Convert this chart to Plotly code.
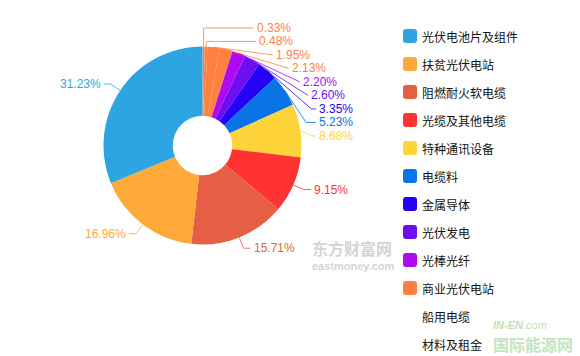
import math
import plotly.graph_objects as go

# ---------------- data (legend order) ----------------
categories = ["光伏电池片及组件", "扶贫光伏电站", "阻燃耐火软电缆", "光缆及其他电缆",
              "特种通讯设备", "电缆料", "金属导体", "光伏发电", "光棒光纤",
              "商业光伏电站", "船用电缆", "材料及租金", "其他"]
shares = [31.23, 16.96, 15.71, 9.15, 8.68, 5.23, 3.35, 2.60, 2.20, 2.13, 1.95, 0.48, 0.33]
palette = ["#2ea5e2", "#ffa93b", "#e65f45", "#ff3333", "#ffd43b",
           "#0874e6", "#2402f5", "#6c0ef0", "#b00af0", "#ff8142"]

# ---------------- layout constants (pixels) ----------------
W, H = 580, 356
CX, CY, R = 202.5, 145.5, 99.0
HOLE = 0.30
LEN, LEN2, GAP = 11.6, 7.0, 3.0
LINE_H = 13.5
RIGHT_LIMIT = 353
MIN_SPAN = 50
FONT = "Liberation Sans, Arial, sans-serif"
CJK = "Noto Sans CJK SC, sans-serif"

def col(i):
    return palette[i] if i < len(palette) else palette[-1]

colors = [col(i) for i in range(len(categories))]

# pie drawn clockwise from 12 o'clock in ascending order
pie_labels = categories[::-1]
pie_values = shares[::-1]
pie_colors = colors[::-1]

fig = go.Figure()
fig.add_trace(go.Scatter(x=[], y=[], mode="markers", showlegend=False, hoverinfo="skip"))
fig.add_trace(go.Pie(
    labels=pie_labels, values=pie_values, sort=False, direction="clockwise", rotation=0,
    hole=HOLE, marker=dict(colors=pie_colors, line=dict(width=0)),
    textinfo="none", hoverinfo="label+percent", showlegend=False,
    domain=dict(x=[(CX - R) / W, (CX + R) / W], y=[(H - CY - R) / H, (H - CY + R) / H]),
))

# ---------------- label layout ----------------
total = sum(pie_values)
items = []
acc = 0.0
for lab, v, c in zip(pie_labels, pie_values, pie_colors):
    mid = (acc + v / 2) / total * 2 * math.pi
    acc += v
    sx, sy = math.sin(mid), -math.cos(mid)
    items.append(dict(text=f"{v:.2f}%", color=c, sx=sx, sy=sy,
                      p0=(CX + R * sx, CY + R * sy),
                      y0=CY + (R + LEN) * sy,
                      side=1 if sx >= 0 else -1))

def spread(lst):
    lst.sort(key=lambda d: d["y0"])
    prev = -1e9
    groups = []
    for it in lst:
        y = max(it["y0"], prev + LINE_H)
        it["y"] = y
        if y == it["y0"]:
            groups.append([it])
        else:
            groups[-1].append(it)
        prev = y
    for g in groups:
        push = g[-1]["y"] - g[-1]["y0"]
        for it in g:
            it["y"] -= push / 2

spread([i for i in items if i["side"] == 1])
spread([i for i in items if i["side"] == -1])

def proj(x1, y1, x2, y2, x, y):
    dx, dy = x2 - x1, y2 - y1
    t = ((x - x1) * dx + (y - y1) * dy) / (dx * dx + dy * dy)
    px, py = x1 + t * dx, y1 + t * dy
    return math.hypot(x - px, y - py), px, py

def clamp_t(p1, p2, qx, qy):
    if p2[0] != p1[0]:
        t = (qx - p1[0]) / (p2[0] - p1[0])
    else:
        t = (qy - p1[1]) / (p2[1] - p1[1])
    if t < 0:
        return p1
    if t > 1:
        return p2
    return (qx, qy)

def limit_turn(p0, p1, p2, min_deg=90):
    a = math.radians(min_deg)
    d1 = (p0[0] - p1[0], p0[1] - p1[1]); d2 = (p2[0] - p1[0], p2[1] - p1[1])
    l1, l2 = math.hypot(*d1), math.hypot(*d2)
    if l1 < 1e-3 or l2 < 1e-3:
        return p1
    d1 = (d1[0] / l1, d1[1] / l1); d2 = (d2[0] / l2, d2[1] / l2)
    if math.cos(a) < d1[0] * d2[0] + d1[1] * d2[1]:
        d, qx, qy = proj(p1[0], p1[1], p2[0], p2[1], p0[0], p0[1])
        k = d / math.tan(math.pi - a) if abs(math.tan(math.pi - a)) > 1e-9 else 0
        qx += d2[0] * k; qy += d2[1] * k
        return clamp_t(p1, p2, qx, qy)
    return p1

def limit_surface(p0, p1, p2, normal, max_deg=90):
    a = math.radians(max_deg)
    d1 = (p1[0] - p0[0], p1[1] - p0[1]); d2 = (p2[0] - p1[0], p2[1] - p1[1])
    l1, l2 = math.hypot(*d1), math.hypot(*d2)
    if l1 < 1e-3 or l2 < 1e-3:
        return p1
    d1 = (d1[0] / l1, d1[1] / l1); d2 = (d2[0] / l2, d2[1] / l2)
    if d1[0] * normal[0] + d1[1] * normal[1] < math.cos(a):
        d, qx, qy = proj(p1[0], p1[1], p2[0], p2[1], p0[0], p0[1])
        ang2 = math.acos(max(-1, min(1, d2[0] * normal[0] + d2[1] * normal[1])))
        new = math.pi / 2 + ang2 - a
        if new >= math.pi / 2:
            return p2
        k = d / math.tan(math.pi / 2 - new)
        qx += d2[0] * k; qy += d2[1] * k
        return clamp_t(p1, p2, qx, qy)
    return p1

shapes = []
annotations = []
RA = R + LEN
for it in items:
    s = it["side"]
    y = it["y"]
    dy = y - CY
    ex = math.sqrt(RA * RA - dy * dy) if abs(dy) < RA else 0.0
    ndig = sum(ch.isdigit() for ch in it["text"])
    tw = 6.67 * ndig + 3.34 + 10.67
    if s == 1:
        tx = CX + ex + LEN2 + GAP
        if dy < 0:
            tx = max(tx, it["p0"][0] + MIN_SPAN + GAP)
        tx = min(tx, RIGHT_LIMIT - tw)
    else:
        tx = CX - ex - LEN2 - GAP
    p0 = it["p0"]
    p2 = (tx - s * GAP, y)
    p1 = (CX + RA * it["sx"], y)
    p1 = limit_turn(p0, p1, p2)
    p1 = limit_surface(p0, p1, p2, (it["sx"], it["sy"]))
    shapes.append(dict(type="path", xref="x", yref="y", layer="above",
                       path=f"M{p0[0]:.2f},{p0[1]:.2f} L{p1[0]:.2f},{p1[1]:.2f} L{p2[0]:.2f},{p2[1]:.2f}",
                       line=dict(color=it["color"], width=1), opacity=0.8))
    annotations.append(dict(xref="x", yref="y", x=tx, y=y, text=it["text"], showarrow=False,
                            xanchor="left" if s == 1 else "right", yanchor="middle",
                            borderpad=0, borderwidth=0,
                            font=dict(family=FONT, size=12, color=it["color"])))

# ---------------- custom legend ----------------
LEG_X, LEG_Y0, LEG_STEP, MK = 403, 36, 28, 14

def rrect(x0, y0, x1, y1, r):
    return (f"M{x0+r},{y0} L{x1-r},{y0} Q{x1},{y0} {x1},{y0+r} L{x1},{y1-r} "
            f"Q{x1},{y1} {x1-r},{y1} L{x0+r},{y1} Q{x0},{y1} {x0},{y1-r} "
            f"L{x0},{y0+r} Q{x0},{y0} {x0+r},{y0} Z")

for i, name in enumerate(categories):
    yc = LEG_Y0 + i * LEG_STEP
    if yc > H:
        break
    if i < len(palette):
        shapes.append(dict(type="path", xref="x", yref="y", layer="above",
                           path=rrect(LEG_X, yc - MK / 2, LEG_X + MK, yc + MK / 2, 3),
                           fillcolor=palette[i], line=dict(width=0)))
    annotations.append(dict(xref="x", yref="y", x=LEG_X + MK + 5, y=yc, text=name,
                            showarrow=False, xanchor="left", yanchor="middle",
                            borderpad=0, borderwidth=0,
                            font=dict(family=CJK, size=12, color="#111111")))

# ---------------- watermarks ----------------
annotations += [
    dict(xref="x", yref="y", x=311, y=248, text="<b>东方财富网</b>", showarrow=False,
         xanchor="left", yanchor="middle", borderpad=0,
         font=dict(family=CJK, size=16, color="#d4d4d4")),
    dict(xref="x", yref="y", x=311, y=266, text="<b>eastmoney.com</b>", showarrow=False,
         xanchor="left", yanchor="middle", borderpad=0,
         font=dict(family=FONT, size=11, color="#d4d4d4")),
    dict(xref="x", yref="y", x=492, y=325, text="<b><i>IN-EN</i></b><i>.com</i>", showarrow=False,
         xanchor="left", yanchor="middle", borderpad=0,
         font=dict(family=FONT, size=11, color="#bfe0b8")),
    dict(xref="x", yref="y", x=492, y=344, text="<b>国际能源网</b>", showarrow=False,
         xanchor="left", yanchor="middle", borderpad=0,
         font=dict(family=CJK, size=16, color="#c4e5be")),
]

fig.update_layout(
    width=W, height=H, margin=dict(l=0, r=0, t=0, b=0),
    paper_bgcolor="white", plot_bgcolor="white", showlegend=False,
    xaxis=dict(range=[0, W], visible=False, fixedrange=True),
    yaxis=dict(range=[H, 0], visible=False, fixedrange=True),
    shapes=shapes, annotations=annotations,
)

fig.write_html("out.html", config={"displayModeBar": False},
               post_script="document.body.style.margin='0px';document.body.style.overflow='hidden';")
